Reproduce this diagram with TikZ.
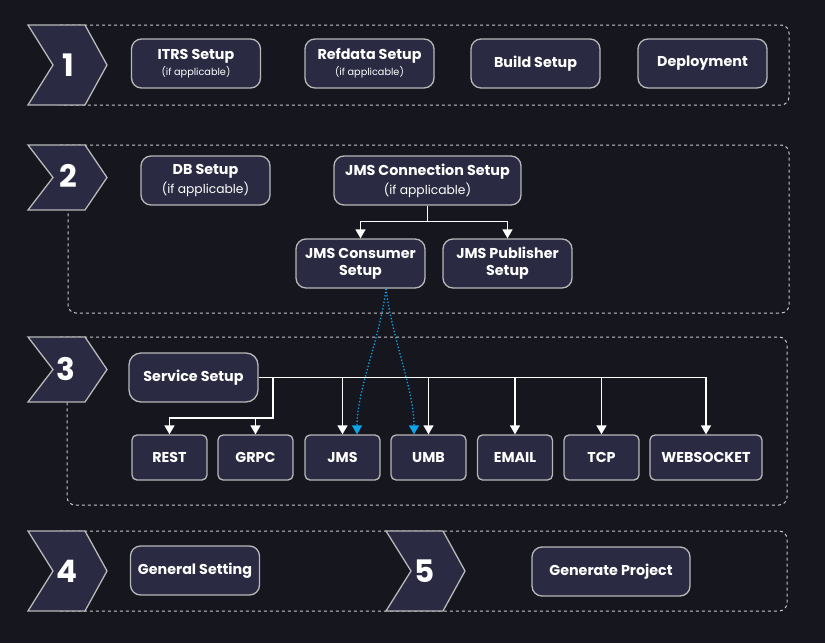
\documentclass[tikz,border=0pt]{standalone}
\usepackage{fontspec}
\setmainfont{Poppins}
\usetikzlibrary{arrows.meta,calc}
\definecolor{bg}{HTML}{16161F}
\definecolor{boxfill}{HTML}{2A2A42}
\definecolor{edge}{HTML}{B8B8B8}
\definecolor{dashc}{HTML}{C8C8C8}
\definecolor{bluec}{HTML}{0EA5E9}
\newcommand\subtxt[1]{{\normalfont\fontsize{9.7}{11}\selectfont #1}}
\newcommand\subbig[1]{{\normalfont\fontsize{12.3}{15}\selectfont #1}}
\newcommand\chevron[3]{%
  \draw[chev] (#1,#2) -- ({#1+57},#2) -- ({#1+79},{(#2+#3)/2}) -- ({#1+57},#3) -- (#1,#3) -- ({#1+25},{(#2+#3)/2}) -- cycle;}
\begin{document}
\begin{tikzpicture}[x=1pt,y=-1pt,
  stepbox/.style={draw=edge, line width=1.3pt, fill=boxfill, rounded corners=10pt, text=white,
    align=center, inner sep=0pt, minimum height=49pt, minimum width=129pt,
    font=\bfseries\fontsize{14.3}{17}\selectfont},
  leafbox/.style={stepbox, rounded corners=5pt, minimum width=75pt, minimum height=45pt},
  frame/.style={draw=dashc, line width=1pt, dash pattern=on 3pt off 3pt, rounded corners=8pt},
  chev/.style={draw=edge, line width=1.3pt, fill=boxfill},
  num/.style={text=white, font=\bfseries\fontsize{31}{31}\selectfont, inner sep=0pt},
  wire/.style={draw=white, line width=1.3pt},
  link/.style={wire, -{Triangle[width=10pt,length=9pt]}},
  bluelink/.style={draw=bluec, line width=1.3pt, dotted, -{Triangle[width=10pt,length=9pt,fill=bluec]}}
]
\fill[bg] (0,0) rectangle (825,643);
\useasboundingbox (0,0) rectangle (825,643);

% dashed frames
\draw[frame] (60,25) -- (789,25) -- (789,105) -- (60,105);
\draw[frame] (60,145) -- (789,145) -- (789,313) -- (68,313) -- (68,160);
\draw[frame] (60,337) -- (787,337) -- (787,505) -- (67,505) -- (67,350);
\draw[frame] (60,531) -- (787,531) -- (787,611) -- (60,611);

% chevrons
\chevron{28}{25}{105}
\chevron{28}{145}{210}
\chevron{28}{337}{402}
\chevron{28}{531}{611}
\chevron{386}{531}{611}
\node[num] (n1) at (68,65) {1};
\node[num] (n2) at (68,176) {2};
\node[num] (n3) at (66,369) {3};
\node[num] (n4) at (67,571) {4};
\node[num] (n5) at (425,571) {5};

% section 1
\node[stepbox] (itrs) at (196,63.5) {ITRS Setup\\[-1pt]\subtxt{(if applicable)}};
\node[stepbox] (ref) at (369.5,63.5) {Refdata Setup\\[-1pt]\subtxt{(if applicable)}};
\node[stepbox] (build) at (535.5,63.5) {Build Setup};
\node[stepbox] (dep) at (702.5,63.5) {Deployment};

% section 2
\node[stepbox] (db) at (205.5,180.5) {DB Setup\\[2pt]\subbig{(if applicable)}};
\node[stepbox, minimum width=187pt] (jmsc) at (427.5,180.5) {JMS Connection Setup\\[2pt]\subbig{(if applicable)}};
\node[stepbox] (cons) at (360.5,263.5) {JMS Consumer\\Setup};
\node[stepbox] (pub) at (507.5,263.5) {JMS Publisher\\Setup};
\draw[link] (jmsc.south) -- ++(0,16) -| (cons.north);
\draw[link] (jmsc.south) -- ++(0,16) -| (pub.north);

% section 3
\node[stepbox, rounded corners=12pt] (svc) at (193.5,377.5) {Service Setup};
\node[leafbox] (rest) at (169.5,457.5) {REST};
\node[leafbox] (grpc) at (255.5,457.5) {GRPC};
\node[leafbox] (jms) at (342.5,457.5) {JMS};
\node[leafbox] (umb) at (428.5,457.5) {UMB};
\node[leafbox] (email) at (515,457.5) {EMAIL};
\node[leafbox] (tcp) at (601.5,457.5) {TCP};
\node[leafbox, minimum width=112pt] (ws) at (706,457.5) {WEBSOCKET};
\coordinate (br1) at (273,377.5);
\coordinate (br2) at (273,418);
\draw[link] (svc.east) -- (ws.north |- svc.east) -- (ws.north);
\draw[link] (br1) -- (br2) -| (rest.north);
\draw[link] (grpc.north |- br2) -- (grpc.north);
\draw[link] (jms.north |- svc.east) -- (jms.north);
\draw[link] (umb.north |- svc.east) -- (umb.north);
\draw[link] (email.north |- svc.east) -- (email.north);
\draw[link] (tcp.north |- svc.east) -- (tcp.north);
\draw[bluelink] ([xshift=25.5pt]cons.south) .. controls +(-6,50) and +(0,-45) .. ([xshift=14.5pt]jms.north);
\draw[bluelink] ([xshift=25.5pt]cons.south) .. controls +(6,50) and +(0,-45) .. ([xshift=-14.5pt]umb.north);

% section 4/5
\node[stepbox] (gen) at (195,570.5) {General Setting};
\node[stepbox, minimum width=158pt] (proj) at (611,571.5) {Generate Project};
\end{tikzpicture}
\end{document}
